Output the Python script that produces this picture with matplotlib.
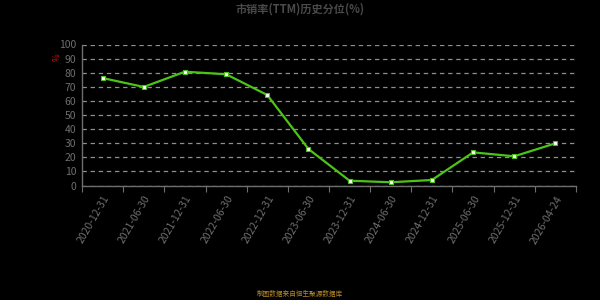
import matplotlib
matplotlib.use("Agg")
import matplotlib.pyplot as plt
import numpy as np

plt.rcParams['font.family'] = ['Noto Sans CJK SC', 'DejaVu Sans']

dates = ["2020-12-31", "2021-06-30", "2021-12-31", "2022-06-30", "2022-12-31", "2023-06-30",
         "2023-12-31", "2024-06-30", "2024-12-31", "2025-06-30", "2025-12-31", "2026-04-24"]
values = [76.2, 69.9, 80.7, 78.9, 64.2, 25.9, 3.4, 2.3, 3.9, 23.5, 20.7, 29.9]
yticks = list(range(0, 101, 10))
title = "市销率(TTM)历史分位(%)"
footer = "制图数据来自恒生聚源数据库"

fig = plt.figure(figsize=(6, 3), dpi=100, facecolor="black")
ax = fig.add_axes([82/600, 1-185.5/300, (576-82)/600, (185.5-44.5)/300])
ax.set_facecolor("black")

x = np.arange(len(dates))
ax.plot(x, values, color="#4cc417", lw=1.6, marker="s", markersize=3.5,
        markerfacecolor="white", markeredgecolor="#4cc417", markeredgewidth=0.8, zorder=3)

ax.set_xlim(-0.5, len(dates) - 0.5)
ax.set_ylim(0, 100)
ax.set_yticks(yticks)
ax.set_yticklabels([str(t) for t in yticks], color="#6e6e6e", fontsize=7.5)
ax.yaxis.grid(True, color="#8f8f8f", linestyle=(0, (3.5, 3)), linewidth=0.9)
ax.tick_params(axis="y", length=0, pad=4)

ax.set_xticks(np.arange(-0.5, len(dates), 1.0))
ax.set_xticklabels([])
ax.set_xticks(x, minor=True)
ax.set_xticklabels(dates, minor=True, rotation=60, ha="right", va="top",
                   rotation_mode="anchor", color="#6e6e6e", fontsize=7.5)
ax.tick_params(axis="x", which="major", length=4, color="#6e6e6e")
ax.tick_params(axis="x", which="minor", length=0, pad=6)

for s in ["top", "right"]:
    ax.spines[s].set_visible(False)
for s in ["left", "bottom"]:
    ax.spines[s].set_color("#6e6e6e")
    ax.spines[s].set_linewidth(1)

fig.text(0.5, 1-9/300, title, ha="center", va="center", color="#4a4a4a",
         fontsize=8, fontweight="bold")
fig.text(57/600, 1-57/300, "%", ha="center", va="center", color="#cc1111",
         fontsize=6, rotation=90)
fig.text(0.5, 1-294/300, footer, ha="center", va="center", color="#b8892a", fontsize=4.8)

fig.savefig("out.png", dpi=100, facecolor="black")
